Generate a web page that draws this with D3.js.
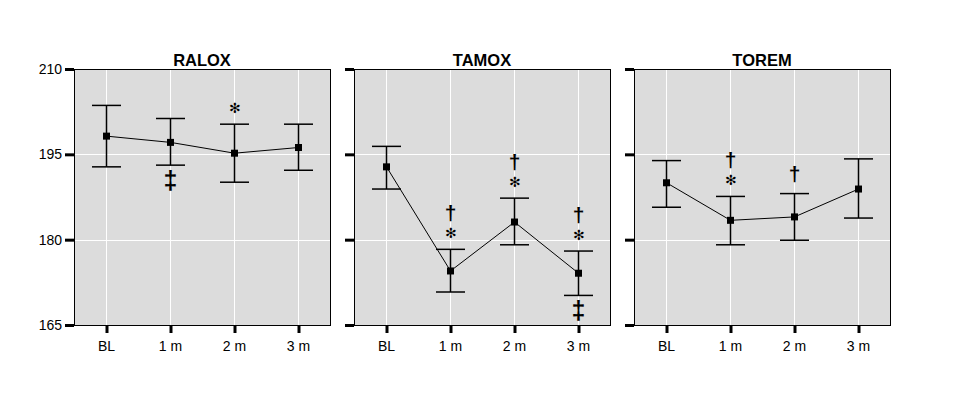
<!DOCTYPE html>
<html>
<head>
<meta charset="utf-8">
<script src="https://cdn.jsdelivr.net/npm/d3@7"></script>
<style>
  body { margin: 0; background: #fff; }
  text { font-family: "Liberation Sans", Arial, sans-serif; }
</style>
</head>
<body>
<div id="chart"></div>
<script>
// categories and tick labels
let categories = ["BL", "1 m", "2 m", "3 m"];
let panelNames = ["RALOX", "TAMOX", "TOREM"];
let yTicks = [165, 180, 195, 210];

// means and error bar ends
let raloxMean = [198.2, 197.1, 195.2, 196.2];
let raloxHigh = [203.6, 201.3, 200.3, 200.3];
let raloxLow = [192.8, 193.1, 190.1, 192.2];

let tamoxMean = [192.8, 174.5, 183.1, 174.1];
let tamoxHigh = [196.4, 178.3, 187.3, 178.0];
let tamoxLow = [188.9, 170.8, 179.1, 170.2];

let toremMean = [190.0, 183.4, 184.0, 188.9];
let toremHigh = [193.9, 187.6, 188.1, 194.2];
let toremLow = [185.7, 179.1, 179.9, 183.8];

// significance marks, stacked from the bar outwards
let raloxAbove = [[], [], ["✻"], []];
let raloxBelow = [[], ["‡"], [], []];
let tamoxAbove = [[], ["✻", "†"], ["✻", "†"], ["✻", "†"]];
let tamoxBelow = [[], [], [], ["‡"]];
let toremAbove = [[], ["✻", "†"], ["†"], []];
let toremBelow = [[], [], [], []];

let panels = [
    { name: panelNames[0], mean: raloxMean, high: raloxHigh, low: raloxLow, above: raloxAbove, below: raloxBelow },
    { name: panelNames[1], mean: tamoxMean, high: tamoxHigh, low: tamoxLow, above: tamoxAbove, below: tamoxBelow },
    { name: panelNames[2], mean: toremMean, high: toremHigh, low: toremLow, above: toremAbove, below: toremBelow }
];

let width = 955, height = 397;
let plotW = 256, plotTop = 69, plotBottom = 325, panelStep = 280, firstLeft = 74;

// glyph look: font, size, weight, ink height and ink centre above baseline (em)
let glyphs = {
    "✻": { font: "DejaVu Sans", size: 14, weight: "normal", h: 12, mid: 0.36 },
    "†": { font: "Liberation Sans", size: 21, weight: "bold", h: 17, mid: 0.30 },
    "‡": { font: "Liberation Sans", size: 25, weight: "bold", h: 22, mid: 0.30 }
};

let svg = d3.select("#chart")
    .append("svg")
    .attr("width", width)
    .attr("height", height);

svg.append("rect")
    .attr("width", width)
    .attr("height", height)
    .attr("fill", "#fff");

let y = d3.scaleLinear()
    .domain([165, 210])
    .range([plotBottom, plotTop]);

panels.forEach((p, pi) => {
    let left = firstLeft + pi * panelStep;
    let x = d3.scalePoint()
        .domain(categories)
        .range([left, left + plotW])
        .padding(0.5);

    let g = svg.append("g");

    // plot background
    g.append("rect")
        .attr("x", left)
        .attr("y", plotTop)
        .attr("width", plotW)
        .attr("height", plotBottom - plotTop)
        .attr("fill", "#dcdcdc");

    // white grid lines
    g.selectAll(".vgrid")
        .data(categories)
        .enter()
        .append("line")
        .attr("x1", d => x(d) + 0.5)
        .attr("x2", d => x(d) + 0.5)
        .attr("y1", plotTop)
        .attr("y2", plotBottom)
        .attr("stroke", "#fff")
        .attr("stroke-width", 1);
    g.selectAll(".hgrid")
        .data(yTicks)
        .enter()
        .append("line")
        .attr("x1", left)
        .attr("x2", left + plotW)
        .attr("y1", d => Math.round(y(d)) + 0.5)
        .attr("y2", d => Math.round(y(d)) + 0.5)
        .attr("stroke", "#fff")
        .attr("stroke-width", 1);

    // frame
    g.append("rect")
        .attr("x", left + 0.5)
        .attr("y", plotTop + 0.5)
        .attr("width", plotW)
        .attr("height", plotBottom - plotTop)
        .attr("fill", "none")
        .attr("stroke", "#000")
        .attr("stroke-width", 1);

    // y axis, labels only on the first panel
    let yAxis = d3.axisLeft(y)
        .tickValues(yTicks)
        .tickSize(9)
        .tickPadding(3)
        .tickFormat(pi === 0 ? d3.format("d") : () => "");
    let ya = g.append("g")
        .attr("transform", "translate(" + left + ",0)")
        .call(yAxis);
    ya.select(".domain").remove();
    ya.selectAll(".tick line").attr("stroke", "#000").attr("stroke-width", 3);
    ya.selectAll(".tick text")
        .attr("font-size", 14)
        .attr("font-family", "Liberation Sans, Arial, sans-serif")
        .attr("fill", "#000");

    // x axis
    let xAxis = d3.axisBottom(x)
        .tickSize(8)
        .tickPadding(8);
    let xa = g.append("g")
        .attr("transform", "translate(0," + plotBottom + ")")
        .call(xAxis);
    xa.select(".domain").remove();
    xa.selectAll(".tick line").attr("stroke", "#000").attr("stroke-width", 3).attr("transform", "translate(0.5,0)");
    xa.selectAll(".tick text")
        .attr("font-size", 14)
        .attr("font-family", "Liberation Sans, Arial, sans-serif")
        .attr("fill", "#000");

    // title
    g.append("text")
        .attr("x", left + plotW / 2)
        .attr("y", 65.5)
        .attr("text-anchor", "middle")
        .attr("font-size", 16.5)
        .attr("font-weight", "bold")
        .attr("fill", "#000")
        .text(p.name);

    let rows = categories.map((c, i) => ({ c: c, mean: p.mean[i], high: p.high[i], low: p.low[i], above: p.above[i], below: p.below[i] }));

    // connecting line
    g.append("path")
        .datum(rows)
        .attr("fill", "none")
        .attr("stroke", "#000")
        .attr("stroke-width", 1)
        .attr("d", d3.line().x(d => x(d.c) + 0.5).y(d => y(d.mean)));

    // error bars
    let bars = g.selectAll(".bar")
        .data(rows)
        .enter()
        .append("g");
    bars.append("line")
        .attr("x1", d => x(d.c) + 0.5)
        .attr("x2", d => x(d.c) + 0.5)
        .attr("y1", d => y(d.high))
        .attr("y2", d => y(d.low))
        .attr("stroke", "#000")
        .attr("stroke-width", 1.5);
    bars.append("line")
        .attr("x1", d => x(d.c) - 14)
        .attr("x2", d => x(d.c) + 15)
        .attr("y1", d => y(d.high))
        .attr("y2", d => y(d.high))
        .attr("stroke", "#000")
        .attr("stroke-width", 1.5);
    bars.append("line")
        .attr("x1", d => x(d.c) - 14)
        .attr("x2", d => x(d.c) + 15)
        .attr("y1", d => y(d.low))
        .attr("y2", d => y(d.low))
        .attr("stroke", "#000")
        .attr("stroke-width", 1.5);

    // square markers
    g.selectAll(".mark")
        .data(rows)
        .enter()
        .append("rect")
        .attr("x", d => x(d.c) - 3)
        .attr("y", d => y(d.mean) - 3.5)
        .attr("width", 7)
        .attr("height", 7)
        .attr("fill", "#000");

    // significance symbols
    let addSymbol = (cx, mid, s) => {
        let gl = glyphs[s];
        g.append("text")
            .attr("x", cx)
            .attr("y", mid + gl.mid * gl.size)
            .attr("text-anchor", "middle")
            .attr("font-family", gl.font)
            .attr("font-size", gl.size)
            .attr("font-weight", gl.weight)
            .attr("fill", "#000")
            .text(s);
    };
    rows.forEach(d => {
        let cursor = y(d.high) - 10;
        d.above.forEach(s => {
            addSymbol(x(d.c) + 0.5, cursor - glyphs[s].h / 2, s);
            cursor -= glyphs[s].h + 5;
        });
        let cursorB = y(d.low) + 5;
        d.below.forEach(s => {
            addSymbol(x(d.c) + 0.5, cursorB + glyphs[s].h / 2, s);
            cursorB += glyphs[s].h + 5;
        });
    });
});
</script>
</body>
</html>
